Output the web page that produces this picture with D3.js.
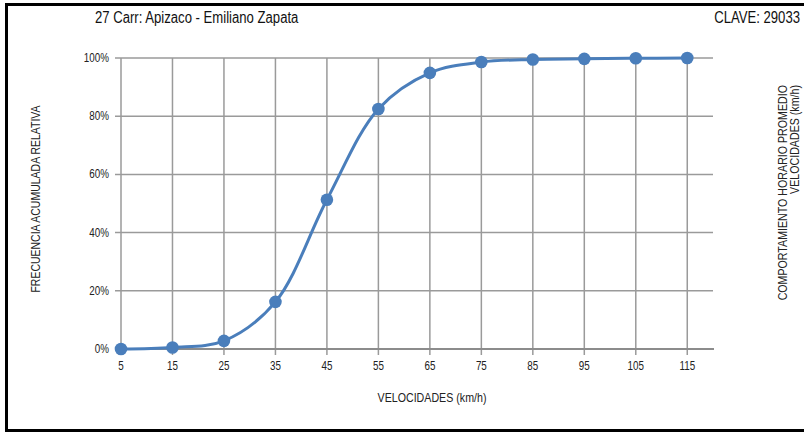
<!DOCTYPE html>
<html><head><meta charset="utf-8">
<script src="https://cdn.jsdelivr.net/npm/d3@7/dist/d3.min.js"></script>
<style>
body{margin:0;background:#fff;}
svg{display:block;font-family:"Liberation Sans",Arial,sans-serif;}
</style></head><body>
<script>
const title = "27  Carr: Apizaco - Emiliano Zapata";
const clave = "CLAVE:  29033";
const speeds = [5,15,25,35,45,55,65,75,85,95,105,115];
const cumFreq = [0,0.005,0.028,0.162,0.513,0.825,0.949,0.986,0.995,0.997,0.999,1.0];
const yTicks = [0,0.2,0.4,0.6,0.8,1.0];
const xLabel = "VELOCIDADES  (km/h)";
const yLabel = "FRECUENCIA ACUMULADA RELATIVA";
const rightLabel = ["COMPORTAMIENTO  HORARIO PROMEDIO","VELOCIDADES  (km/h)"];

const W=804,H=433, SX=0.82;
const svg=d3.select("body").append("svg").attr("width",W).attr("height",H);
svg.append("rect").attr("x",6.5).attr("y",4.5).attr("width",W+10).attr("height",426).attr("fill","none").attr("stroke","#000").attr("stroke-width",3);

function narrowText(px,py,rot,anchor,size,txt,fill){
  svg.append("text").attr("transform",`translate(${px},${py}) rotate(${rot}) scale(${SX},1)`)
    .attr("text-anchor",anchor).attr("font-size",size).attr("fill",fill||"#222").text(txt);
}

const x=d3.scaleLinear().domain([5,120]).range([121,713]);
const y=d3.scaleLinear().domain([0,1]).range([349,58]);
const grid="#9a9a9a";
const g=svg.append("g");
g.selectAll(".hg").data(yTicks).join("line").attr("x1",115).attr("x2",713)
 .attr("y1",d=>y(d)).attr("y2",d=>y(d)).attr("stroke",grid).attr("stroke-width",1.5);
g.selectAll(".vg").data(speeds).join("line").attr("x1",d=>x(d)).attr("x2",d=>x(d))
 .attr("y1",58).attr("y2",355).attr("stroke",grid).attr("stroke-width",1.5);
g.append("line").attr("x1",115).attr("x2",714).attr("y1",y(0)).attr("y2",y(0)).attr("stroke","#8c8c8c").attr("stroke-width",2.2);

yTicks.forEach(d=>narrowText(109,y(d)+4,0,"end",12,d3.format(".0%")(d)));
speeds.forEach(d=>narrowText(x(d),370,0,"middle",12,d));

const line=d3.line().x((d,i)=>x(speeds[i])).y(d=>y(d)).curve(d3.curveCatmullRom.alpha(0.5));
svg.append("path").datum(cumFreq).attr("d",line).attr("fill","none").attr("stroke","#4a7ebb").attr("stroke-width",3);
svg.selectAll(".pt").data(cumFreq).join("circle").attr("cx",(d,i)=>x(speeds[i])).attr("cy",d=>y(d))
 .attr("r",6.3).attr("fill","#4a7ebb");

narrowText(95,23,0,"start",16,title,"#111");
narrowText(800,23,0,"end",16,clave,"#111");
narrowText(40,199,-90,"middle",12.8,yLabel);
narrowText(432,402,0,"middle",13,xLabel);
rightLabel.forEach((t,i)=>narrowText(787+i*12,85,-90,"end",13,t));
</script>
</body></html>
